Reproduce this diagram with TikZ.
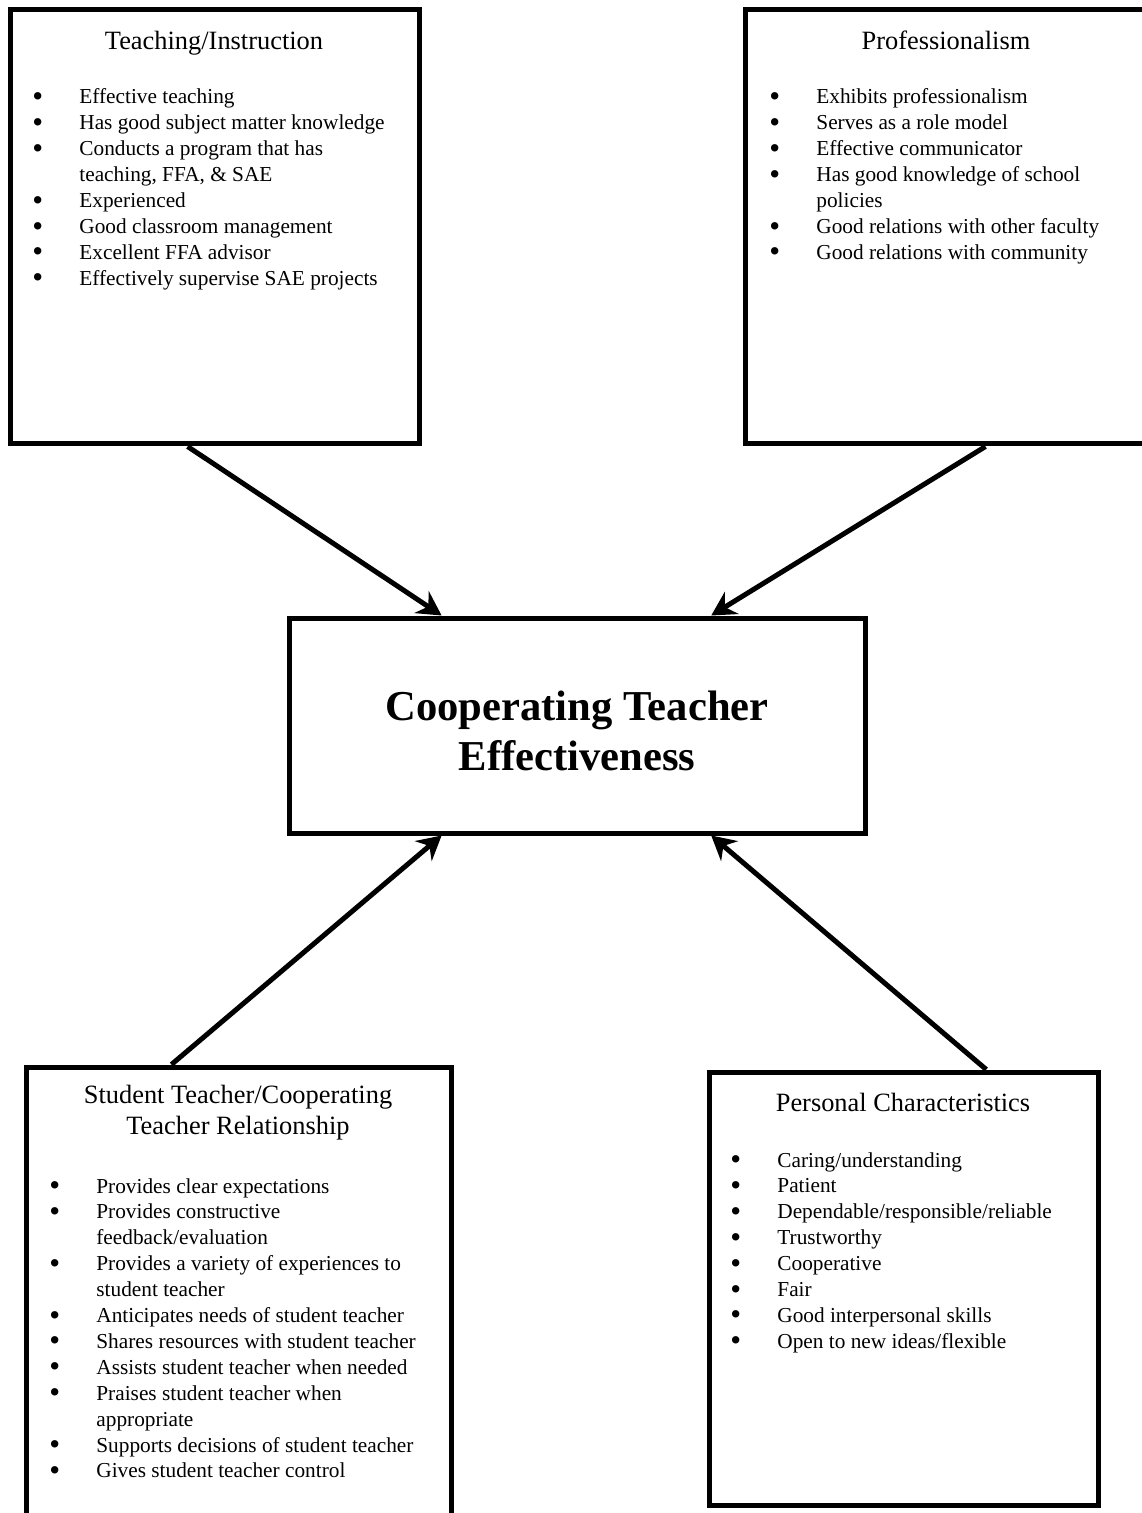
\documentclass[tikz,border=0pt]{standalone}
\usepackage{fontspec}
\setmainfont{Liberation Serif}
\usetikzlibrary{fit}
\usetikzlibrary{calc}
\usetikzlibrary{arrows.meta}
\tikzset{
	every node/.style = {font=\normalsize}
}
\tikzset{
	box/.style = {draw, line width=2.5pt, inner sep=0pt},
	head/.style = {font=\fontsize{13.2}{15.2}\selectfont, align=center, anchor=base, inner sep=0pt},
	items/.style = {font=\fontsize{10.65}{12.95}\selectfont, anchor=base west, inner sep=0pt},
	link/.style = {line width=2.5pt, -{Stealth[length=12pt, width=13pt, inset=4pt]}}
}
\newcommand{\bl}{\raisebox{-0.12em}{\scalebox{1.45}{\textbullet}}}

\begin{document}
\begin{tikzpicture}[x=0.5pt, y=-0.5pt]
        \useasboundingbox (0,0) rectangle (1141,1513);   % page frame, one unit = one pixel
        \def\cw{23.5pt}                                   % bullet column

        % The four boxes round the centre box
        \node[box, fit={(10,10) (419,444)}] (teach) {};
        \node[box, fit={(745,10) (1147,444)}] (prof) {};
        \node[box, fit={(289,618) (865,833)}] (cte) {};
        \node[box, fit={(26,1067) (451,1540)}] (rel) {};
        \node[box, fit={(709,1072) (1098,1505)}] (pers) {};

        % Centre box
        \node[font=\fontsize{21.3}{25}\selectfont\bfseries, align=center] (cteT) at (577,731)
            {Cooperating Teacher\\Effectiveness};

        % Teaching/Instruction
        \node[head] (teachT) at (214,50) {Teaching/Instruction};
        \node[items] (teachL) at (32,104) {\begin{tabular}[t]{@{}p{\cw}@{}l@{}}
            \bl & Effective teaching\\
            \bl & Has good subject matter knowledge\\
            \bl & Conducts a program that has\\
                & teaching, FFA, \& SAE\\
            \bl & Experienced\\
            \bl & Good classroom management\\
            \bl & Excellent FFA advisor\\
            \bl & Effectively supervise SAE projects
        \end{tabular}};

        % Professionalism
        \node[head] (profT) at (946,50) {Professionalism};
        \node[items] (profL) at (769,104) {\begin{tabular}[t]{@{}p{\cw}@{}l@{}}
            \bl & Exhibits professionalism\\
            \bl & Serves as a role model\\
            \bl & Effective communicator\\
            \bl & Has good knowledge of school\\
                & policies\\
            \bl & Good relations with other faculty\\
            \bl & Good relations with community
        \end{tabular}};

        % Student Teacher/Cooperating Teacher Relationship
        \node[head] (relT) at (238,1134) {Student Teacher/Cooperating\\Teacher Relationship};
        \node[items] (relL) at (49,1193) {\begin{tabular}[t]{@{}p{\cw}@{}l@{}}
            \bl & Provides clear expectations\\
            \bl & Provides constructive\\
                & feedback/evaluation\\
            \bl & Provides a variety of experiences to\\
                & student teacher\\
            \bl & Anticipates needs of student teacher\\
            \bl & Shares resources with student teacher\\
            \bl & Assists student teacher when needed\\
            \bl & Praises student teacher when\\
                & appropriate\\
            \bl & Supports decisions of student teacher\\
            \bl & Gives student teacher control
        \end{tabular}};

        % Personal Characteristics
        \node[head] (persT) at (903,1111) {Personal Characteristics};
        \node[items] (persL) at (730,1167) {\begin{tabular}[t]{@{}p{\cw}@{}l@{}}
            \bl & Caring/understanding\\
            \bl & Patient\\
            \bl & Dependable/responsible/reliable\\
            \bl & Trustworthy\\
            \bl & Cooperative\\
            \bl & Fair\\
            \bl & Good interpersonal skills\\
            \bl & Open to new ideas/flexible
        \end{tabular}};

        % Arrows into the centre box
        \draw[link] ($(teach.south west)!.435!(teach.south east)$) -- ($(cte.north west)!.267!(cte.north east)$);
        \draw[link] ($(prof.south west)!.597!(prof.south east)$) -- ($(cte.north west)!.731!(cte.north east)$);
        \draw[link] ($(rel.north west)!.344!(rel.north east)$) -- ($(cte.south west)!.267!(cte.south east)$);
        \draw[link] ($(pers.north west)!.710!(pers.north east)$) -- ($(cte.south west)!.731!(cte.south east)$);
\end{tikzpicture}
\end{document}
